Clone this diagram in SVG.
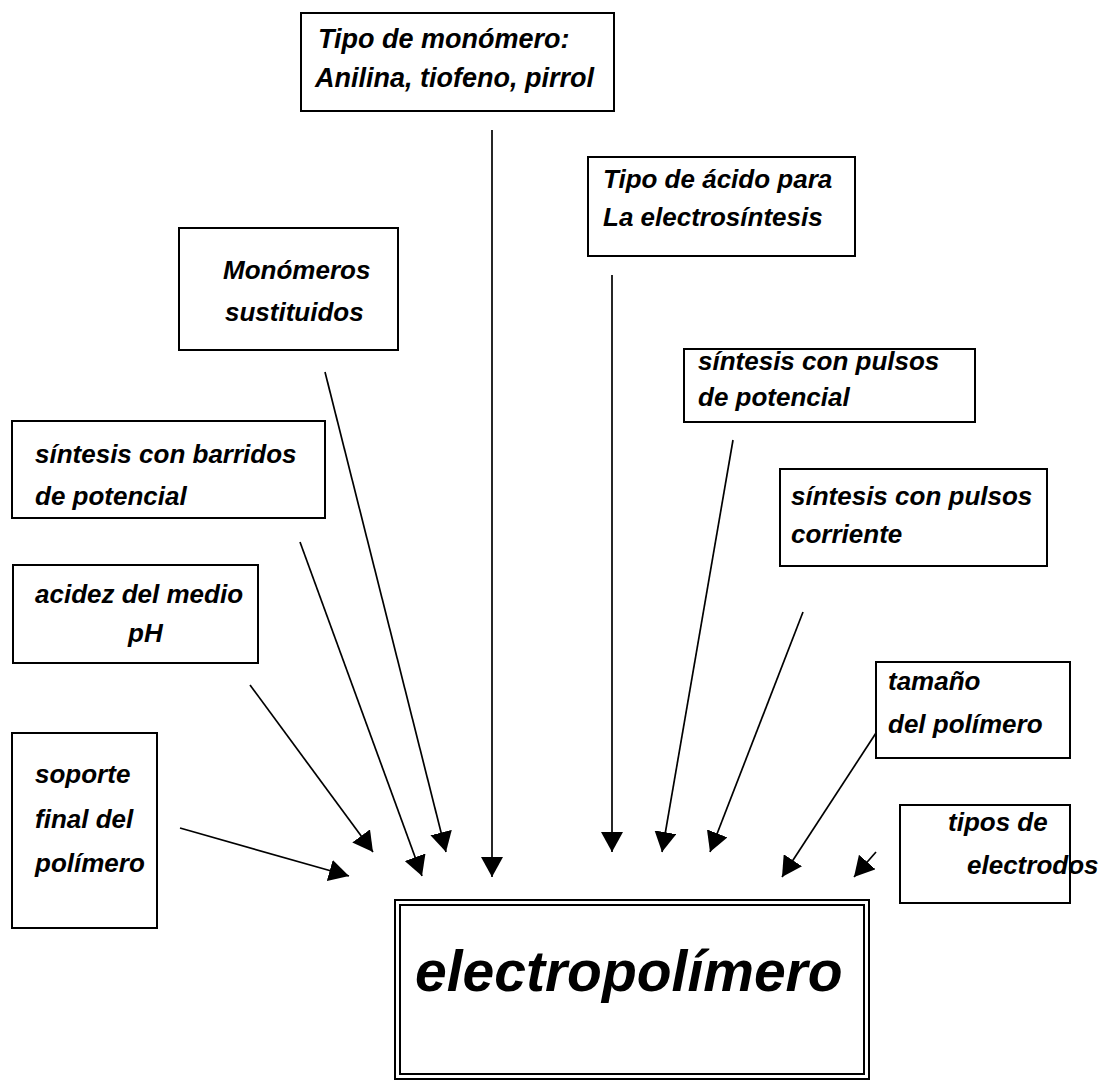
<svg xmlns="http://www.w3.org/2000/svg" width="1099" height="1081" viewBox="0 0 1099 1081">
<style>
.box{fill:#fff;stroke:#000;stroke-width:2}
.t{font-family:"Liberation Sans",Arial,sans-serif;font-weight:bold;font-style:italic;font-size:26px;fill:#000}
.t27{font-size:27px}
.big{font-size:57px}
.c{stroke:#000;stroke-width:1.7;fill:none}
</style>
<defs>
<marker id="ah" viewBox="0 0 20 22" refX="20" refY="11" markerWidth="20" markerHeight="22" markerUnits="userSpaceOnUse" orient="auto">
<path d="M0,0 L20,11 L0,22 z" fill="#000"/>
</marker>
</defs>
<rect width="1099" height="1081" fill="#fff"/>
<g id="connectors">
<line class="c" x1="492" y1="130" x2="492" y2="877" marker-end="url(#ah)"/>
<line class="c" x1="325" y1="372" x2="446" y2="852" marker-end="url(#ah)"/>
<line class="c" x1="300" y1="542" x2="422" y2="876" marker-end="url(#ah)"/>
<line class="c" x1="250" y1="685" x2="373" y2="852" marker-end="url(#ah)"/>
<line class="c" x1="180" y1="828" x2="349" y2="876" marker-end="url(#ah)"/>
<line class="c" x1="612" y1="275" x2="612" y2="852" marker-end="url(#ah)"/>
<line class="c" x1="733" y1="440" x2="662" y2="852" marker-end="url(#ah)"/>
<line class="c" x1="803" y1="612" x2="710" y2="852" marker-end="url(#ah)"/>
<line class="c" x1="876" y1="733" x2="782" y2="877" marker-end="url(#ah)"/>
<line class="c" x1="876" y1="852" x2="854" y2="877" marker-end="url(#ah)"/>
</g>
<g id="n1"><rect class="box" x="301" y="13" width="313" height="98"/>
<text class="t t27" x="318" y="48">Tipo de monómero:</text>
<text class="t t27" x="315" y="87">Anilina, tiofeno, pirrol</text></g>
<g id="n2"><rect class="box" x="588" y="157" width="267" height="99"/>
<text class="t" x="603" y="188">Tipo de ácido para</text>
<text class="t" x="603" y="226">La electrosíntesis</text></g>
<g id="n3"><rect class="box" x="179" y="228" width="219" height="122"/>
<text class="t" x="223" y="279">Monómeros</text>
<text class="t" x="225" y="321">sustituidos</text></g>
<g id="n4"><rect class="box" x="12" y="421" width="313" height="97"/>
<text class="t" x="35" y="463">síntesis con barridos</text>
<text class="t" x="35" y="505">de potencial</text></g>
<g id="n5"><rect class="box" x="684" y="349" width="291" height="73"/>
<text class="t" x="698" y="370">síntesis con pulsos</text>
<text class="t" x="698" y="406">de potencial</text></g>
<g id="n6"><rect class="box" x="780" y="469" width="267" height="97"/>
<text class="t" x="791" y="505">síntesis con pulsos</text>
<text class="t" x="791" y="543">corriente</text></g>
<g id="n7"><rect class="box" x="13" y="565" width="245" height="98"/>
<text class="t" x="35" y="603">acidez del medio</text>
<text class="t" x="128" y="642">pH</text></g>
<g id="n8"><rect class="box" x="12" y="733" width="145" height="195"/>
<text class="t" x="35" y="783">soporte</text>
<text class="t" x="35" y="828">final del</text>
<text class="t" x="35" y="872">polímero</text></g>
<g id="n9"><rect class="box" x="876" y="662" width="194" height="96"/>
<text class="t" x="888" y="690">tamaño</text>
<text class="t" x="888" y="733">del polímero</text></g>
<g id="n10"><rect class="box" x="900" y="805" width="170" height="98"/>
<text class="t" x="948" y="831">tipos de</text>
<text class="t" x="967" y="874">electrodos</text></g>
<g id="main"><rect x="395" y="900" width="474" height="179" fill="#fff" stroke="#000" stroke-width="2"/>
<rect x="400" y="905" width="464" height="169" fill="none" stroke="#000" stroke-width="2"/>
<text class="t big" x="415" y="991">electropolímero</text></g>
</svg>
